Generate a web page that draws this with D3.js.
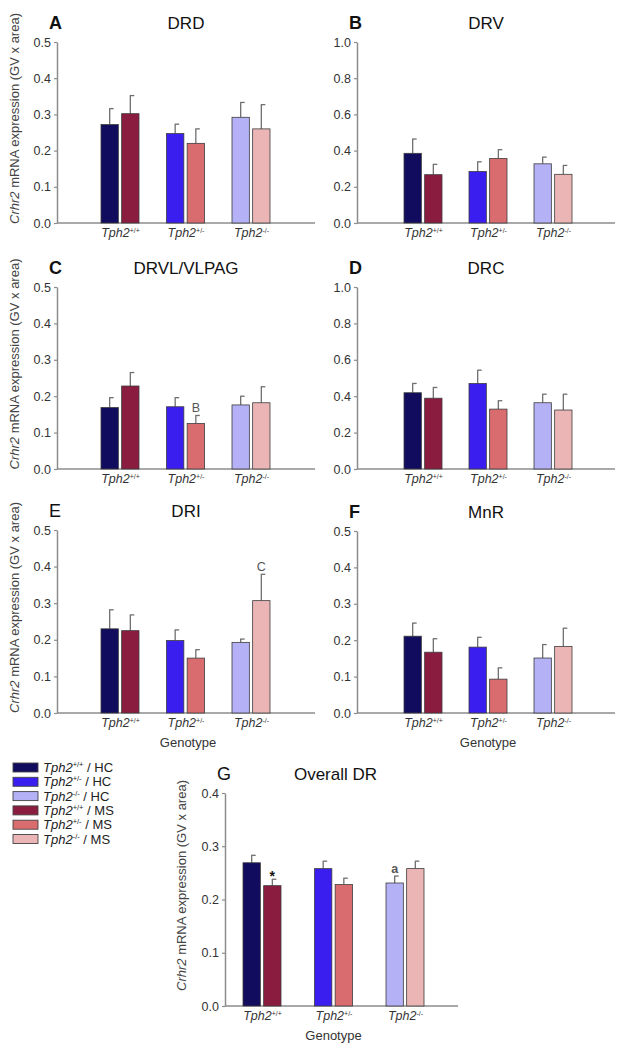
<!DOCTYPE html>
<html><head><meta charset="utf-8">
<script src="https://cdn.jsdelivr.net/npm/d3@7"></script>
<style>
body{margin:0;background:#fff}
svg{display:block}
text{font-family:Arial,"Liberation Sans",sans-serif}
</style>
</head><body>
<svg id="chart" width="624" height="1050"></svg>
<script>
// ---------- DATA ----------
const genotypes = ["+/+", "+/-", "-/-"];
const housing = ["HC", "MS"];
const regions = ["DRD", "DRV", "DRVL/VLPAG", "DRC", "DRI", "MnR", "Overall DR"];
const panelLetters = ["A", "B", "C", "D", "E", "F", "G"];
const yMaxes = [0.5, 1.0, 0.5, 1.0, 0.5, 0.5, 0.4];
const yTickSteps = [0.1, 0.2, 0.1, 0.2, 0.1, 0.1, 0.1];

// means per region, per genotype (+/+, +/-, -/-)
const hcMeans = [
  [0.272, 0.247, 0.292],
  [0.385, 0.285, 0.327],
  [0.169, 0.171, 0.176],
  [0.419, 0.470, 0.364],
  [0.230, 0.198, 0.193],
  [0.211, 0.181, 0.151],
  [0.269, 0.258, 0.231]
];
const hcSem = [
  [0.044, 0.026, 0.041],
  [0.079, 0.053, 0.037],
  [0.027, 0.025, 0.024],
  [0.051, 0.073, 0.047],
  [0.052, 0.029, 0.009],
  [0.036, 0.027, 0.037],
  [0.014, 0.014, 0.013]
];
const msMeans = [
  [0.302, 0.220, 0.260],
  [0.267, 0.356, 0.269],
  [0.228, 0.125, 0.182],
  [0.389, 0.329, 0.324],
  [0.225, 0.150, 0.307],
  [0.167, 0.093, 0.183],
  [0.226, 0.228, 0.258]
];
const msSem = [
  [0.050, 0.040, 0.067],
  [0.057, 0.049, 0.049],
  [0.037, 0.022, 0.044],
  [0.059, 0.046, 0.087],
  [0.043, 0.023, 0.072],
  [0.037, 0.031, 0.050],
  [0.012, 0.012, 0.014]
];
// significance annotations
const annotPanel = [2, 4, 6, 6];
const annotGenotype = [1, 2, 0, 2];
const annotHousing = ["MS", "MS", "MS", "HC"];
const annotText = ["B", "C", "*", "a"];

const yLabelItalic = "Crhr2";
const yLabelRest = " mRNA expression (GV x area)";
const xTitle = "Genotype";

// ---------- STYLE / LAYOUT ----------
const hcColors = ["#110c5e", "#3a1ef0", "#b4b1f6"];
const msColors = ["#8a1c40", "#d96c6e", "#ebb4b5"];
const layout = [
  {left: 57,  right: 315, top: 42,  bottom: 223, g0: 63, g2: 194, letterBold: true},
  {left: 357, right: 615, top: 42,  bottom: 223, g0: 66, g2: 196, letterBold: true},
  {left: 57,  right: 315, top: 287, bottom: 469, g0: 63, g2: 194, letterBold: true},
  {left: 357, right: 615, top: 287, bottom: 469, g0: 66, g2: 196, letterBold: true},
  {left: 57,  right: 315, top: 530, bottom: 713, g0: 63, g2: 194, letterBold: false, xTitle: true},
  {left: 357, right: 615, top: 531, bottom: 713, g0: 66, g2: 196, letterBold: true, xTitle: true},
  {left: 225, right: 458, top: 793, bottom: 1006, g0: 37, g2: 180, letterBold: false, xTitle: true}
];
const axisColor = "#8c8c8c";
const textColor = "#333";

const svg = d3.select("#chart");

function drawPanel(i) {
  const L = layout[i];
  const g = svg.append("g");
  const y = d3.scaleLinear().domain([0, yMaxes[i]]).range([L.bottom, L.top]);
  const x = d3.scalePoint().domain(genotypes).range([L.left + L.g0, L.left + L.g2]);
  const sub = d3.scaleBand().domain(housing).range([-19, 19]).paddingInner(0.16);

  // y axis
  const ticks = d3.range(0, yMaxes[i] + 1e-9, yTickSteps[i]);
  const yAx = g.append("g").attr("transform", `translate(${L.left},0)`)
    .call(d3.axisLeft(y).tickValues(ticks).tickFormat(d3.format(".1f")).tickSize(3).tickSizeOuter(0).tickPadding(3));
  yAx.select(".domain").attr("stroke", axisColor).attr("stroke-width", 1.5);
  yAx.selectAll(".tick line").attr("stroke", axisColor).attr("stroke-width", 1.2);
  yAx.selectAll(".tick text").attr("fill", textColor).style("font-size", "12.5px").style("font-family", "Arial, 'Liberation Sans', sans-serif");

  // x axis line
  g.append("line").attr("x1", L.left).attr("x2", L.right).attr("y1", y(0)).attr("y2", y(0))
    .attr("stroke", axisColor).attr("stroke-width", 1.5);

  // x tick labels
  const xAx = g.append("g").attr("transform", `translate(0,${y(0)})`)
    .call(d3.axisBottom(x).tickSize(0).tickPadding(0).tickFormat(""));
  xAx.select(".domain").remove();
  xAx.selectAll(".tick text").remove();
  xAx.selectAll(".tick").append("text")
    .attr("y", 13.5).attr("text-anchor", "middle").attr("fill", textColor)
    .style("font-size", "12.5px")
    .each(function(d) {
      const t = d3.select(this);
      t.append("tspan").style("font-style", "italic").text("Tph2");
      t.append("tspan").attr("dy", -4).style("font-size", "7px").text(d);
    });

  // bars
  const rows = [];
  genotypes.forEach((gt, j) => {
    rows.push({gt, j, h: "HC", v: hcMeans[i][j], e: hcSem[i][j], c: hcColors[j]});
    rows.push({gt, j, h: "MS", v: msMeans[i][j], e: msSem[i][j], c: msColors[j]});
  });
  const bx = d => x(d.gt) + sub(d.h);
  const eb = g.append("g").attr("stroke", "#6f6f6f").attr("stroke-width", 1.3);
  eb.selectAll("line.v").data(rows).join("line")
    .attr("x1", d => bx(d) + sub.bandwidth() / 2).attr("x2", d => bx(d) + sub.bandwidth() / 2)
    .attr("y1", d => y(d.v)).attr("y2", d => y(d.v + d.e));
  eb.selectAll("line.c").data(rows).join("line")
    .attr("x1", d => bx(d) + sub.bandwidth() / 2 - 0.5).attr("x2", d => bx(d) + sub.bandwidth() / 2 + 4)
    .attr("y1", d => y(d.v + d.e)).attr("y2", d => y(d.v + d.e));
  g.append("g").selectAll("rect").data(rows).join("rect")
    .attr("x", bx).attr("width", sub.bandwidth())
    .attr("y", d => y(d.v)).attr("height", d => y(0) - y(d.v))
    .attr("fill", d => d.c).attr("stroke", "#3d3d3d").attr("stroke-width", 0.8);

  // annotations
  annotPanel.forEach((p, k) => {
    if (p !== i) return;
    const j = annotGenotype[k], h = annotHousing[k];
    const v = h === "HC" ? hcMeans[i][j] + hcSem[i][j] : msMeans[i][j] + msSem[i][j];
    const txt = annotText[k];
    g.append("text")
      .attr("x", x(genotypes[j]) + sub(h) + sub.bandwidth() / 2)
      .attr("y", y(v) - (txt === "*" ? -2 : 3))
      .attr("text-anchor", "middle")
      .attr("fill", txt === "*" ? "#111" : "#555")
      .style("font-size", txt === "*" ? "14px" : "12.5px")
      .style("font-weight", txt === "a" || txt === "*" ? "bold" : "normal")
      .text(txt);
  });

  // titles
  g.append("text").attr("x", L.left - 8).attr("y", L.top - 13)
    .style("font-size", "18px").style("font-weight", L.letterBold ? "bold" : "normal")
    .attr("fill", "#111").text(panelLetters[i]);
  g.append("text").attr("x", (L.left + L.right) / 2 + (i === 6 ? -6 : 0)).attr("y", L.top - 13)
    .attr("text-anchor", "middle").style("font-size", "17px").attr("fill", "#111").text(regions[i]);

  // y label
  if (L.left < 300) {
    const lx = i === 6 ? 186 : 19;
    const ly = (L.top + L.bottom) / 2 - 14;
    const t = g.append("text").attr("transform", `translate(${lx},${ly}) rotate(-90)`)
      .attr("text-anchor", "middle").attr("fill", "#444").style("font-size", "13px");
    t.append("tspan").style("font-style", "italic").text(yLabelItalic);
    t.append("tspan").text(yLabelRest);
  }
  if (L.xTitle) {
    g.append("text").attr("x", (L.left + L.right) / 2 + (i === 6 ? -8 : 2)).attr("y", y(0) + 34)
      .attr("text-anchor", "middle").attr("fill", textColor).style("font-size", "13px").text(xTitle);
  }
}
d3.range(regions.length).forEach(drawPanel);

// legend
const legendItems = [];
housing.forEach(h => genotypes.forEach((gt, j) => legendItems.push({gt, h, c: h === "HC" ? hcColors[j] : msColors[j]})));
const lg = svg.append("g").attr("transform", "translate(13,763)");
const li = lg.selectAll("g").data(legendItems).join("g").attr("transform", (d, k) => `translate(0,${k * 14.3})`);
li.append("rect").attr("width", 25).attr("height", 9).attr("fill", d => d.c).attr("stroke", "#444").attr("stroke-width", 0.9);
const lt = li.append("text").attr("x", 30).attr("y", 9).attr("fill", "#222").style("font-size", "13px");
lt.append("tspan").style("font-style", "italic").text("Tph2");
lt.append("tspan").attr("dy", -5).style("font-size", "7.5px").text(d => d.gt);
lt.append("tspan").attr("dy", 5).text(d => " / " + d.h);
</script>
</body></html>
